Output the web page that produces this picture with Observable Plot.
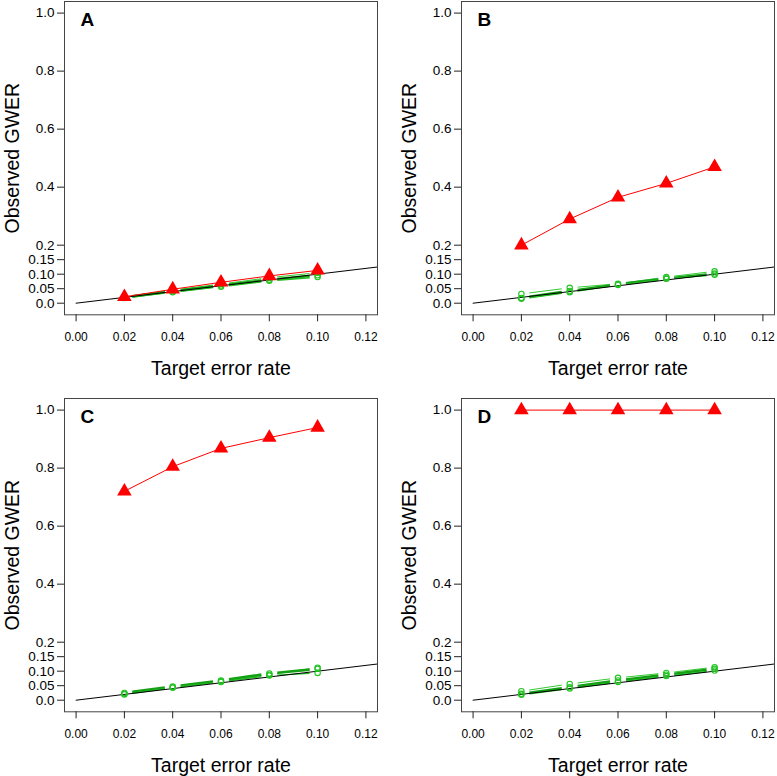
<!DOCTYPE html>
<html>
<head>
<meta charset="utf-8">
<script src="https://cdn.jsdelivr.net/npm/d3@7"></script>
<script src="https://cdn.jsdelivr.net/npm/@observablehq/plot@0.6"></script>
<style>
  html, body { margin: 0; padding: 0; background: #fff; }
  #chart { position: relative; width: 777px; height: 776px; background: #fff; }
  #chart svg { position: absolute; overflow: visible; }
</style>
</head>
<body>
<div id="chart"></div>
<script>
// ---- data ----
const targetRates = [0.02, 0.04, 0.06, 0.08, 0.10];
const panelLabels = ["A", "B", "C", "D"];

const redA = [0.022, 0.048, 0.072, 0.094, 0.113];
const redB = [0.200, 0.290, 0.365, 0.413, 0.470];
const redC = [0.720, 0.805, 0.868, 0.905, 0.940];
const redD = [1.000, 1.000, 1.000, 1.000, 1.000];

const greenA1 = [0.022, 0.045, 0.066, 0.088, 0.105];
const greenA2 = [0.020, 0.041, 0.061, 0.081, 0.096];
const greenA3 = [0.018, 0.038, 0.057, 0.077, 0.090];

const greenB1 = [0.032, 0.053, 0.067, 0.090, 0.110];
const greenB2 = [0.018, 0.042, 0.065, 0.085, 0.102];
const greenB3 = [0.015, 0.038, 0.063, 0.084, 0.098];

const greenC1 = [0.022, 0.045, 0.065, 0.088, 0.112];
const greenC2 = [0.025, 0.047, 0.068, 0.092, 0.108];
const greenC3 = [0.020, 0.043, 0.063, 0.085, 0.094];

const greenD1 = [0.031, 0.056, 0.077, 0.094, 0.114];
const greenD2 = [0.022, 0.045, 0.068, 0.088, 0.108];
const greenD3 = [0.019, 0.040, 0.063, 0.083, 0.102];

const refLineX = [0, 0.13];   // identity line y = x

const xTicks = [0, 0.02, 0.04, 0.06, 0.08, 0.10, 0.12];
const xTickLabels = ["0.00", "0.02", "0.04", "0.06", "0.08", "0.10", "0.12"];
const yTicks = [0, 0.05, 0.10, 0.15, 0.2, 0.4, 0.6, 0.8, 1.0];
const yTickLabels = ["0.0", "0.05", "0.10", "0.15", "0.2", "0.4", "0.6", "0.8", "1.0"];

const xTitle = "Target error rate";
const yTitle = "Observed GWER";

const panels = [
  {label: panelLabels[0], red: redA, greens: [greenA1, greenA2, greenA3]},
  {label: panelLabels[1], red: redB, greens: [greenB1, greenB2, greenB3]},
  {label: panelLabels[2], red: redC, greens: [greenC1, greenC2, greenC3]},
  {label: panelLabels[3], red: redD, greens: [greenD1, greenD2, greenD3]}
];

// ---- styles ----
const greenStyles = [
  {stroke: "#33cc33", strokeWidth: 1},
  {stroke: "#14a014", strokeWidth: 2.6},
  {stroke: "#22bb22", strokeWidth: 1.4}
];
const FONT = "'Liberation Sans', Arial, Helvetica, sans-serif";
const positions = [[0, 0], [397, 0], [0, 397], [397, 397]];

function points(values) {
  return targetRates.map((x, i) => ({x, y: values[i]}));
}
function segments(values) {
  return d3.pairs(points(values)).map(([a, b]) => ({x1: a.x, y1: a.y, x2: b.x, y2: b.y}));
}

const chart = document.getElementById("chart");

panels.forEach((p, k) => {
  const marks = [];
  // green series lines (type "b": gaps around points)
  p.greens.forEach((g, j) => {
    marks.push(Plot.arrow(segments(g), {
      x1: "x1", y1: "y1", x2: "x2", y2: "y2",
      bend: 0, headLength: 0, inset: 8,
      stroke: greenStyles[j].stroke, strokeWidth: greenStyles[j].strokeWidth,
      strokeLinecap: "butt"
    }));
  });
  // identity reference line
  marks.push(Plot.line(refLineX, {x: d => d, y: d => d, stroke: "#000", strokeWidth: 1, clip: true}));
  // green open circles
  p.greens.forEach((g, j) => {
    marks.push(Plot.dot(points(g), {x: "x", y: "y", r: 2.7, stroke: "#22c422", strokeWidth: 1.1, fill: "none"}));
  });
  // red series
  marks.push(Plot.line(points(p.red), {x: "x", y: "y", stroke: "#ff0000", strokeWidth: 1}));
  marks.push(Plot.dot(points(p.red), {x: "x", y: "y", symbol: "triangle", r: 5.4, fill: "#ff0000", stroke: "none"}));
  // frame & axes
  marks.push(Plot.frame({stroke: "#444", strokeWidth: 1}));
  marks.push(Plot.axisX(xTicks, {
    tickFormat: d => xTickLabels[xTicks.indexOf(d)],
    tickSize: 7, tickPadding: 11, fontSize: 12, label: null, stroke: "#222"
  }));
  marks.push(Plot.axisY(yTicks, {
    tickFormat: d => yTickLabels[yTicks.indexOf(d)],
    tickSize: 7, tickPadding: 3, fontSize: 13.5, label: null, stroke: "#222"
  }));
  // titles
  marks.push(Plot.text([xTitle], {frameAnchor: "bottom", dy: 60, lineAnchor: "bottom", fontSize: 19.5, fill: "#000"}));
  marks.push(Plot.text([yTitle], {frameAnchor: "left", dx: -52, rotate: -90, textAnchor: "middle", lineAnchor: "middle", fontSize: 19.5, fill: "#000"}));
  // panel letter
  marks.push(Plot.text([p.label], {frameAnchor: "top-left", dx: 16, dy: 11, lineAnchor: "top", textAnchor: "start", fontSize: 19, fontWeight: "bold", fill: "#000"}));

  const svg = Plot.plot({
    width: 381,
    height: 379,
    marginLeft: 64,
    marginRight: 4,
    marginTop: 1,
    marginBottom: 64.7,
    x: {domain: [-0.0048, 0.1248], label: null},
    y: {domain: [-0.04, 1.04], label: null},
    style: {fontFamily: FONT, fontSize: "12px", color: "#000", background: "transparent", overflow: "visible"},
    marks
  });
  svg.style.left = positions[k][0] + "px";
  svg.style.top = positions[k][1] + "px";
  chart.appendChild(svg);
});
</script>
</body>
</html>
